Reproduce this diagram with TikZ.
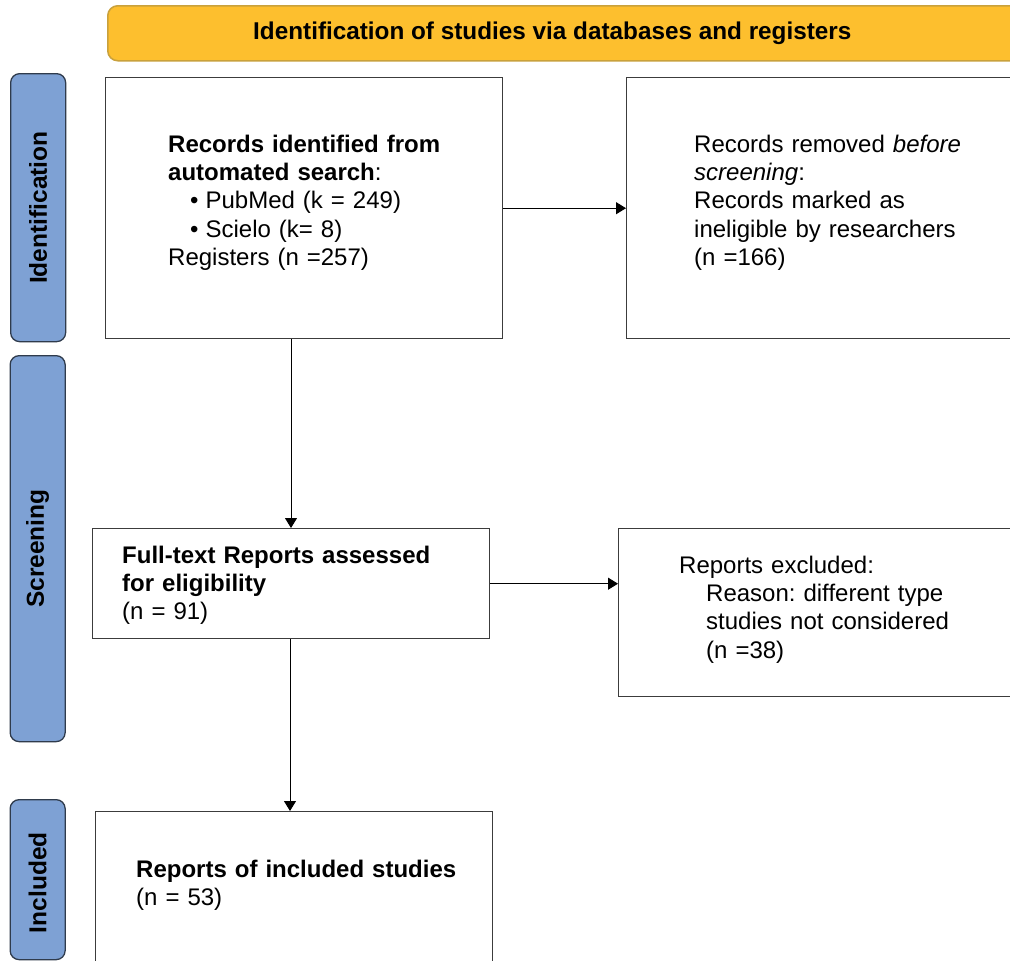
\documentclass[tikz,border=0pt]{standalone}
\usepackage{fontspec}
\setmainfont{Liberation Sans}
\usetikzlibrary{arrows.meta,calc}
\definecolor{gold}{HTML}{FDBF2E}
\definecolor{goldline}{HTML}{C9A13C}
\definecolor{sideblue}{HTML}{7EA1D4}
\definecolor{sideline}{HTML}{2F3B4C}
\definecolor{boxline}{HTML}{3C3C3C}
\tikzset{
  boxnode/.style={draw=boxline, line width=1.4pt, fill=white, rectangle, anchor=north west, inner sep=0pt},
  sidenode/.style={draw=sideline, line width=1.3pt, fill=sideblue, rounded corners=9pt, rectangle, anchor=north west, inner sep=0pt},
  sidelabel/.style={rotate=90, font=\fontsize{24.5}{28}\selectfont\bfseries, inner sep=0pt},
  txt/.style={anchor=base west, inner sep=0pt, text width=380pt, align=left, font=\fontsize{24}{28.4}\selectfont\frenchspacing},
  arr/.style={line width=1pt, -{Triangle[length=10pt,width=12pt]}},
}
\begin{document}
\begin{tikzpicture}[x=1pt,y=-1pt]
\clip (0,0) rectangle (1010,961);
\fill[white] (0,0) rectangle (1010,961);
% header
\node[draw=goldline, line width=1.5pt, fill=gold, rounded corners=10pt, anchor=north west, minimum width=940pt, minimum height=55pt, inner sep=0pt] (head) at (107,5) {};
\node[anchor=base west, inner sep=0pt, font=\fontsize{24.3}{28}\selectfont\bfseries] (headtxt) at (253,39.5) {Identification of studies via databases and registers};
% side labels
\node[sidenode, minimum width=55pt, minimum height=268pt] (s1) at (10,73) {};
\node[sidelabel] (s1t) at (s1.center) {Identification};
\node[sidenode, minimum width=55pt, minimum height=386pt] (s2) at (9.5,355) {};
\node[sidelabel] (s2t) at (s2.center) {Screening};
\node[sidenode, minimum width=55pt, minimum height=160pt] (s3) at (9.5,799) {};
\node[sidelabel] (s3t) at ([yshift=-3pt]s3.center) {Included};
% boxes
\node[boxnode, minimum width=397pt, minimum height=261pt] (b1) at (105,77) {};
\node[boxnode, minimum width=420pt, minimum height=261pt] (b2) at (626,77) {};
\node[boxnode, minimum width=397pt, minimum height=110pt] (b3) at (92,528) {};
\node[boxnode, minimum width=420pt, minimum height=168pt] (b4) at (618,528) {};
\node[boxnode, minimum width=397pt, minimum height=170pt] (b5) at (95,811) {};
% texts
\node[txt] (t1) at (168,152) {\textbf{Records identified from}\\\textbf{automated search}:\\\hspace*{22pt}•\hspace{7pt}PubMed (k = 249)\\\hspace*{22pt}•\hspace{7pt}Scielo (k= 8)\\Registers (n =257)};
\node[txt] (t2) at (694,152) {Records removed \textit{before}\\\textit{screening}:\\Records marked as\\ineligible by researchers\\(n =166)};
\node[txt] (t3) at (122,563) {\textbf{Full-text Reports assessed}\\\textbf{for eligibility}\\(n = 91)};
\node[txt] (t4) at (679,573) {Reports excluded:\\\hspace*{27pt}Reason: different type\\\hspace*{27pt}studies not considered\\\hspace*{27pt}(n =38)};
\node[txt] (t5) at (136,877) {\textbf{Reports of included studies}\\(n = 53)};
% connectors
\coordinate (c1) at (291,0);
\coordinate (c2) at (290,0);
\draw[arr] (b1.east) -- (b1.east -| b2.west);
\draw[arr] (b1.south -| c1) -- (b3.north -| c1);
\draw[arr] (b3.east) -- (b3.east -| b4.west);
\draw[arr] (b3.south -| c2) -- (b5.north -| c2);
\end{tikzpicture}
\end{document}
